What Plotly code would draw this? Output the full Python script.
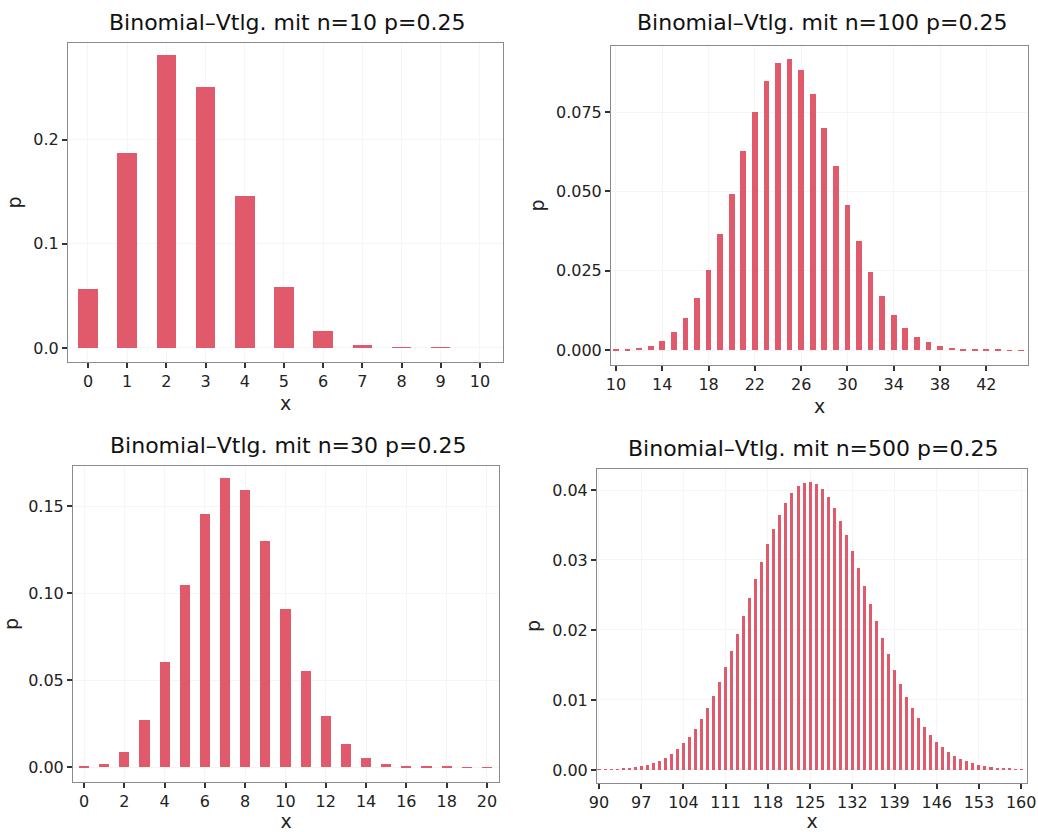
import plotly.graph_objects as go
from plotly.subplots import make_subplots

# ---- data ----
x10 = list(range(0, 11))
p10 = [0.0563, 0.1877, 0.2816, 0.2503, 0.1460, 0.0584, 0.0162, 0.0031, 0.0004, 0.00003, 0.000001]

x100 = list(range(10, 46))
p100 = [0.000094, 0.000256, 0.000634, 0.001431, 0.002963, 0.005663, 0.01003, 0.01652,
        0.02538, 0.03652, 0.04930, 0.06260, 0.07493, 0.08470, 0.09058, 0.09179,
        0.08826, 0.08063, 0.07007, 0.05799, 0.04575, 0.03443, 0.02475, 0.01700,
        0.01117, 0.00702, 0.004225, 0.002436, 0.001346, 0.000713, 0.000363,
        0.000177, 0.0000828, 0.0000372, 0.0000161, 0.0000067]

x30 = list(range(0, 21))
p30 = [0.00018, 0.0018, 0.0086, 0.0269, 0.0604, 0.1047, 0.1455, 0.1662, 0.1593, 0.1298,
       0.0909, 0.0551, 0.0291, 0.0134, 0.0054, 0.0019, 0.0006, 0.00015, 0.00004, 0.00001, 0.000001]

x500 = list(range(90, 161))
p500 = [0.0000415, 0.0000623, 0.0000923, 0.000135, 0.000195, 0.000278, 0.000390, 0.000542,
        0.000743, 0.001006, 0.001344, 0.001774, 0.002314, 0.002980, 0.003792, 0.004767,
        0.005921, 0.007267, 0.008815, 0.01057, 0.01252, 0.01467, 0.01698, 0.01944,
        0.02199, 0.02461, 0.02722, 0.02978, 0.03222, 0.03448, 0.03649, 0.03820,
        0.03956, 0.04053, 0.04107, 0.04118, 0.04085, 0.04010, 0.03895, 0.03744,
        0.03562, 0.03353, 0.03124, 0.02881, 0.02630, 0.02377, 0.02127, 0.01883,
        0.01651, 0.01433, 0.01232, 0.01048, 0.008836, 0.007374, 0.006094, 0.004987,
        0.004042, 0.003245, 0.002580, 0.002031, 0.001584, 0.001224, 0.000937, 0.000710,
        0.000533, 0.000397, 0.000293, 0.000214, 0.000155, 0.000111, 0.0000788]

titles = ["Binomial\u2013Vtlg. mit n=10 p=0.25", "Binomial\u2013Vtlg. mit n=100 p=0.25",
          "Binomial\u2013Vtlg. mit n=30 p=0.25", "Binomial\u2013Vtlg. mit n=500 p=0.25"]

BAR = "#E05A6C"
FONT = "DejaVu Sans"
W, H = 1038, 832

fig = make_subplots(rows=2, cols=2)

panels = [
    # (row, col, x, y, px-box (l, r, t, b) in window pixels, xrange, yrange, xticks, yticks, yfmt)
    (1, 1, x10, p10, (68, 503, 43, 362), [-0.51, 10.59], [-0.0135, 0.293],
     list(range(0, 11)), [0, 0.1, 0.2], ".1f"),
    (1, 2, x100, p100, (611, 1028, 46, 365), [9.57, 45.6], [-0.0047, 0.0958],
     list(range(10, 43, 4)), [0, 0.025, 0.05, 0.075], ".3f"),
    (2, 1, x30, p30, (73, 499, 466, 782), [-0.55, 20.6], [-0.0086, 0.173],
     list(range(0, 21, 2)), [0, 0.05, 0.10, 0.15], ".2f"),
    (2, 2, x500, p500, (597, 1027, 469, 783), [89.67, 160.97], [-0.00186, 0.043],
     list(range(90, 161, 7)), [0, 0.01, 0.02, 0.03, 0.04], ".2f"),
]

for i, (r, c, xs, ys, box, xr, yr, xt, yt, yf) in enumerate(panels):
    l, rr, t, b = box
    fig.add_trace(go.Bar(x=xs, y=ys, width=0.5, marker=dict(color=BAR, line=dict(width=0)),
                         showlegend=False), row=r, col=c)
    fig.update_xaxes(domain=[l / W, rr / W], range=xr, tickvals=xt, automargin=False,
                     showline=True, mirror=True, linecolor="#8a8a92", linewidth=1,
                     ticks="outside", ticklen=5, tickwidth=1.5, tickcolor="#333",
                     showgrid=True, gridcolor="#f5f5f5", zeroline=False,
                     tickfont=dict(family=FONT, size=16, color="#222"),
                     title=dict(text="x", font=dict(family=FONT, size=19, color="#222"), standoff=6),
                     row=r, col=c)
    fig.update_yaxes(domain=[1 - b / H, 1 - t / H], range=yr, tickvals=yt, tickformat=yf,
                     automargin=False,
                     showline=True, mirror=True, linecolor="#8a8a92", linewidth=1,
                     ticks="outside", ticklen=5, tickwidth=1.5, tickcolor="#333",
                     showgrid=True, gridcolor="#f5f5f5", zeroline=False,
                     tickfont=dict(family=FONT, size=16, color="#222"),
                     title=dict(text="p", font=dict(family=FONT, size=19, color="#222"), standoff=6),
                     row=r, col=c)

title_pos = [(287, 22), (822, 23), (288, 445), (813, 448)]
for (cx, cy), txt in zip(title_pos, titles):
    fig.add_annotation(text=txt, x=cx / W, y=1 - cy / H, xref="paper", yref="paper",
                       showarrow=False, xanchor="center", yanchor="middle",
                       font=dict(family=FONT, size=22, color="#111"))

fig.update_layout(width=W, height=H, margin=dict(l=0, r=0, t=0, b=0),
                  paper_bgcolor="white", plot_bgcolor="white", bargap=0,
                  font=dict(family=FONT))

fig.write_html("out.html", config={"displayModeBar": False},
               post_script="document.body.style.margin='0';document.body.style.overflow='hidden';")
